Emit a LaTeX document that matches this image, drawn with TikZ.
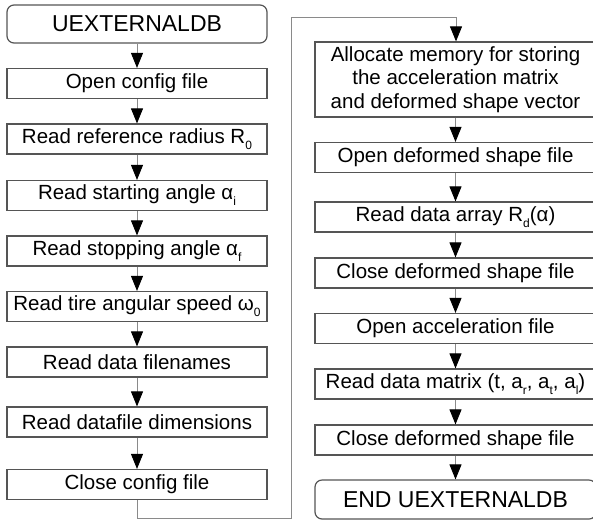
\documentclass[tikz,border=0pt]{standalone}
\usepackage{fontspec}
\setmainfont{Liberation Sans}
\usetikzlibrary{arrows.meta}
\newcommand\sbs[1]{\raisebox{-6pt}{\fontsize{12pt}{12pt}\selectfont #1}}
\definecolor{boxline}{HTML}{555555}
\definecolor{conline}{HTML}{8A8A8A}
\begin{document}
\begin{tikzpicture}[x=1pt,y=-1pt,
  procbox/.style={draw=boxline,line width=1.2pt,fill=white,inner sep=0pt,
    font=\fontsize{20.5pt}{22pt}\selectfont,align=center},
  lbox/.style={procbox,minimum width=260pt,minimum height=30pt},
  rbox/.style={procbox,minimum width=281pt,minimum height=30pt},
  termbox/.style={procbox,rounded corners=7pt,font=\fontsize{23pt}{25pt}\selectfont},
  flow/.style={draw=conline,line width=0.9pt,-{Triangle[length=15pt,width=12pt,fill=black,color=black]}},
  plain/.style={draw=conline,line width=0.9pt}]
\useasboundingbox[fill=white] (0,0) rectangle (593,523);
% left column
\node[termbox,minimum width=260pt,minimum height=38pt] (s) at (137,24) {UEXTERNALDB};
\node[lbox] (l1) at (137,83.5) {Open config file};
\node[lbox] (l2) at (137,139) {Read reference radius R\sbs{0}};
\node[lbox] (l3) at (137,195.5) {Read starting angle α\sbs{i}};
\node[lbox] (l4) at (137,251) {Read stopping angle α\sbs{f}};
\node[lbox] (l5) at (137,306.5) {Read tire angular speed ω\sbs{0}};
\node[lbox] (l6) at (137,362) {Read data filenames};
\node[lbox] (l7) at (137,422) {Read datafile dimensions};
\node[lbox] (l8) at (137,484.5) {Close config file};
% right column
\node[rbox,minimum height=75pt,font=\fontsize{20.5pt}{23.5pt}\selectfont] (r1) at (455.5,79.5) {Allocate memory for storing\\the acceleration matrix\\and deformed shape vector};
\node[rbox] (r2) at (455.5,157.5) {Open deformed shape file};
\node[rbox] (r3) at (455.5,217) {Read data array R\sbs{d}(α)};
\node[rbox] (r4) at (455.5,273) {Close deformed shape file};
\node[rbox] (r5) at (455.5,328.5) {Open acceleration file};
\node[rbox] (r6) at (455.5,384) {Read data matrix (t, a\sbs{r}, a\sbs{t}, a\sbs{l})};
\node[rbox] (r7) at (455.5,440) {Close deformed shape file};
\node[termbox,minimum width=281pt,minimum height=39pt] (e) at (455.5,499.5) {END UEXTERNALDB};
% connectors
\foreach \a/\b in {s/l1,l1/l2,l2/l3,l3/l4,l4/l5,l5/l6,l6/l7,l7/l8,r1/r2,r2/r3,r3/r4,r4/r5,r5/r6,r6/r7,r7/e}
  \draw[flow] (\a.south) -- (\b.north);
\coordinate (c1) at (137,518);
\coordinate (c2) at (291,518);
\coordinate (c3) at (291,17);
\coordinate (c4) at (456,17);
\draw[flow] (l8.south) -- (c1) -- (c2) -- (c3) -- (c4) -- (r1.north -| c4);
\end{tikzpicture}
\end{document}
